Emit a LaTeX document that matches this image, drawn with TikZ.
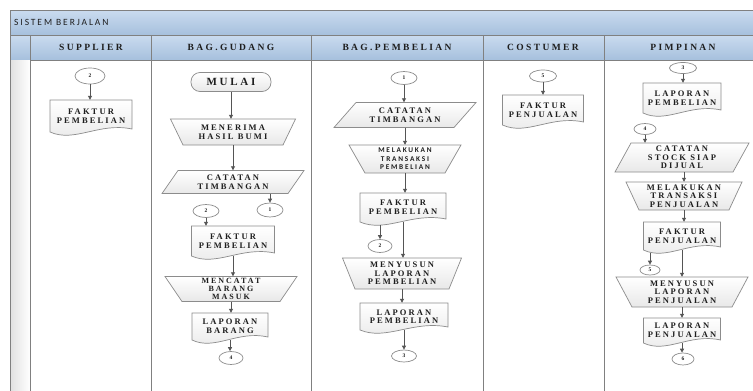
\documentclass[tikz,border=0pt]{standalone}
\usepackage{fontspec}
\setmainfont{Liberation Serif}
\newfontfamily\shpfont{Liberation Serif}[LetterSpace=25]
\newfontfamily\calfont{Carlito Bold}[LetterSpace=24]
\newfontfamily\ttlfont{Carlito}[LetterSpace=20]
\usetikzlibrary{arrows.meta,shapes.geometric}
\definecolor{hdrtop}{HTML}{CADBEF}
\definecolor{hdrbot}{HTML}{A6C0DD}
\definecolor{laneline}{HTML}{808080}
\definecolor{shapeline}{HTML}{8C8C8C}
\definecolor{arrowc}{HTML}{555555}
\definecolor{txtc}{HTML}{1E1E1E}
\newcommand{\docnode}[6]{%
  \path[shapefill] ({#2-#4/2},{#3}) -- ({#2+#4/2},{#3}) -- ({#2+#4/2},{#3+#5-3})
    .. controls ({#2-#4/2+0.6*#4},{#3+#5-10}) and ({#2-#4/2+0.3*#4},{#3+#5+11}) .. ({#2-#4/2},{#3+#5}) -- cycle;
  \node[txt, minimum width=#4pt, minimum height=#5pt] (#1) at (#2,{#3+#5/2}) {#6};}
\newcommand{\manop}[8]{%
  \path[shapefill] ({#2-#4/2},{#3-#6/2}) -- ({#2+#4/2},{#3-#6/2}) -- ({#2+#5/2},{#3+#6/2}) -- ({#2-#5/2},{#3+#6/2}) -- cycle;
  \node[txt, #8, minimum width=#5pt, minimum height=#6pt] (#1) at (#2,#3) {#7};}
\newcommand{\paranode}[7]{%
  \path[shapefill] ({#2-#4/2+#5/2},{#3-#6/2}) -- ({#2+#4/2+#5/2},{#3-#6/2}) -- ({#2+#4/2-#5/2},{#3+#6/2}) -- ({#2-#4/2-#5/2},{#3+#6/2}) -- cycle;
  \node[txt, minimum width={#4-#5}, minimum height=#6pt] (#1) at (#2,#3) {#7};}
\begin{document}
\begin{tikzpicture}[x=1pt,y=-1pt,
  shapefill/.style={draw=shapeline, line width=0.7pt, top color=white, bottom color=black!9},
  txt/.style={inner sep=0pt, align=center, text=txtc, font=\shpfont\bfseries\fontsize{8.5}{8.6}\selectfont},
  caltxt/.style={font=\calfont\fontsize{7.3}{8.4}\selectfont},
  smalltxt/.style={font=\shpfont\bfseries\fontsize{8}{7.8}\selectfont},
  conn/.style={ellipse, draw=shapeline, line width=0.7pt, fill=white, inner sep=0pt, text=txtc,
    font=\shpfont\bfseries\fontsize{5.5}{6}\selectfont},
  term/.style={rectangle, rounded corners=9pt, draw=shapeline, line width=0.7pt, top color=white, bottom color=black!9,
    minimum width=80pt, minimum height=19pt, inner sep=0pt, text=txtc, font=\shpfont\bfseries\fontsize{11}{12}\selectfont},
  hdr/.style={inner sep=0pt, text=txtc, font=\shpfont\bfseries\fontsize{9.5}{10}\selectfont},
  ttl/.style={inner sep=0pt, text=txtc, anchor=west, font=\ttlfont\fontsize{9.5}{10}\selectfont},
  lane/.style={draw=laneline, line width=0.8pt},
  arr/.style={draw=arrowc, line width=0.8pt, -{Triangle[length=4pt,width=4pt]}}]
\useasboundingbox (0,0) rectangle (753,391);
\clip (0,0) rectangle (753,391);
\fill[white] (0,0) rectangle (753,391);
% frame
\shade[top color=hdrtop, bottom color=hdrbot] (10,10) rectangle (760,35);
\shade[top color=hdrtop, bottom color=hdrbot] (10,35) rectangle (760,60);
\shade[left color=black!12, right color=white] (10,60) rectangle (30,400);
\draw[lane] (10,400) -- (10,10) -- (760,10);
\draw[lane] (10,35) -- (760,35);
\draw[lane] (30,60) -- (760,60);
\foreach \x in {30,151,311,483,604} \draw[lane] (\x,35) -- (\x,400);
\node[ttl] (title) at (14,22.5) {SISTEM BERJALAN};
\node[hdr] (h1) at (91,47.5) {SUPPLIER};
\node[hdr] (h2) at (231,47.5) {BAG.GUDANG};
\node[hdr] (h3) at (397,47.5) {BAG.PEMBELIAN};
\node[hdr] (h4) at (543,47.5) {COSTUMER};
\node[hdr] (h5) at (683,47.5) {PIMPINAN};
% SUPPLIER
\node[conn, minimum width=30pt, minimum height=16pt] (c2s) at (90,76) {2};
\docnode{fs}{91}{100}{82}{32}{FAKTUR\\PEMBELIAN}
\draw[arr] (c2s.south) -- (c2s.south |- fs.north);
% GUDANG
\node[term] (mulai) at (231,82) {MULAI};
\manop{mener}{233}{132}{125}{100}{26}{MENERIMA\\HASIL BUMI}{}
\paranode{ctg}{233}{182}{126}{16}{23}{CATATAN\\TIMBANGAN}
\node[conn, minimum width=26pt, minimum height=14pt] (c1g) at (270,210) {1};
\node[conn, minimum width=26pt, minimum height=13pt] (c2g) at (206,211) {2};
\docnode{fpg}{233}{226}{83}{30}{FAKTUR\\PEMBELIAN}
\manop{menc}{231}{289}{132}{98}{25}{MENCATAT\\BARANG\\MASUK}{smalltxt}
\docnode{lb}{230}{313}{76}{27}{LAPORAN\\BARANG}
\node[conn, minimum width=24pt, minimum height=13pt] (c4g) at (231,358) {4};
\draw[arr] (mulai.south) -- (mulai.south |- mener.north);
\draw[arr] (mener.south) -- (mener.south |- ctg.north);
\draw[arr] (c1g |- ctg.south) -- (c1g.north);
\draw[arr] (c2g.south) -- (c2g.south |- fpg.north);
\draw[arr] (fpg.south) -- (fpg.south |- menc.north);
\draw[arr] (menc.south) -- (menc.south |- lb.north);
\draw[arr] (lb.south) -- (lb.south |- c4g.north);
% PEMBELIAN
\node[conn, minimum width=26pt, minimum height=13pt] (c1p) at (404,78) {1};
\paranode{ctp}{405}{115}{120}{22}{25}{CATATAN\\TIMBANGAN}
\manop{mtp}{405}{159}{112}{80}{28}{MELAKUKAN\\TRANSAKSI\\PEMBELIAN}{caltxt}
\docnode{fpp}{403}{193}{86}{29}{FAKTUR\\PEMBELIAN}
\node[conn, minimum width=24pt, minimum height=13pt] (c2p) at (380,246) {2};
\manop{msp}{402}{273.5}{119}{94}{31}{MENYUSUN\\LAPORAN\\PEMBELIAN}{}
\docnode{lpp}{404}{303}{88}{27}{LAPORAN\\PEMBELIAN}
\node[conn, minimum width=25pt, minimum height=12pt] (c3p) at (404,356) {3};
\draw[arr] (c1p.south) -- (c1p.south |- ctp.north);
\draw[arr] (ctp.south) -- (ctp.south |- mtp.north);
\draw[arr] (mtp.south) -- (mtp.south |- fpp.north);
\draw[arr] ([yshift=-3pt]c2p |- fpp.south) -- (c2p.north);
\draw[arr] (fpp.south) -- (fpp.south |- msp.north);
\draw[arr] (msp.south) -- (msp.south |- lpp.north);
\draw[arr] (lpp.south) -- (lpp.south |- c3p.north);
% COSTUMER
\node[conn, minimum width=27pt, minimum height=12pt] (c5c) at (543,76) {5};
\docnode{fjc}{543}{95}{81}{30}{FAKTUR\\PENJUALAN}
\draw[arr] (c5c.south) -- (c5c.south |- fjc.north);
% PIMPINAN
\node[conn, minimum width=27pt, minimum height=11pt] (c3i) at (683,68) {3};
\docnode{lpi}{682}{83}{78}{30}{LAPORAN\\PEMBELIAN}
\node[conn, minimum width=22pt, minimum height=11pt] (c4i) at (645,129) {4};
\paranode{csi}{682}{157.5}{118}{16}{29}{CATATAN\\STOCK SIAP\\DIJUAL}
\manop{mti}{684}{196}{116}{90}{28}{MELAKUKAN\\TRANSAKSI\\PENJUALAN}{}
\docnode{fji}{682}{222}{77}{28}{FAKTUR\\PENJUALAN}
\node[conn, minimum width=20pt, minimum height=10pt] (c5i) at (650,270) {5};
\manop{msi}{682}{292}{132}{100}{30}{MENYUSUN\\LAPORAN\\PENJUALAN}{}
\docnode{lji}{682}{318}{77}{25}{LAPORAN\\PENJUALAN}
\node[conn, minimum width=22pt, minimum height=12pt] (c6i) at (683,359) {6};
\draw[arr] (c3i.south) -- (c3i.south |- lpi.north);
\draw[arr] (c4i.south) -- (c4i.south |- csi.north);
\draw[arr] (mti.north |- csi.south) -- (mti.north);
\draw[arr] (mti.south) -- (mti.south |- fji.north);
\draw[arr] ([yshift=-3pt]c5i |- fji.south) -- (c5i.north);
\draw[arr] (fji.south) -- (fji.south |- msi.north);
\draw[arr] (msi.south) -- (msi.south |- lji.north);
\draw[arr] (lji.south) -- (lji.south |- c6i.north);
\end{tikzpicture}
\end{document}
